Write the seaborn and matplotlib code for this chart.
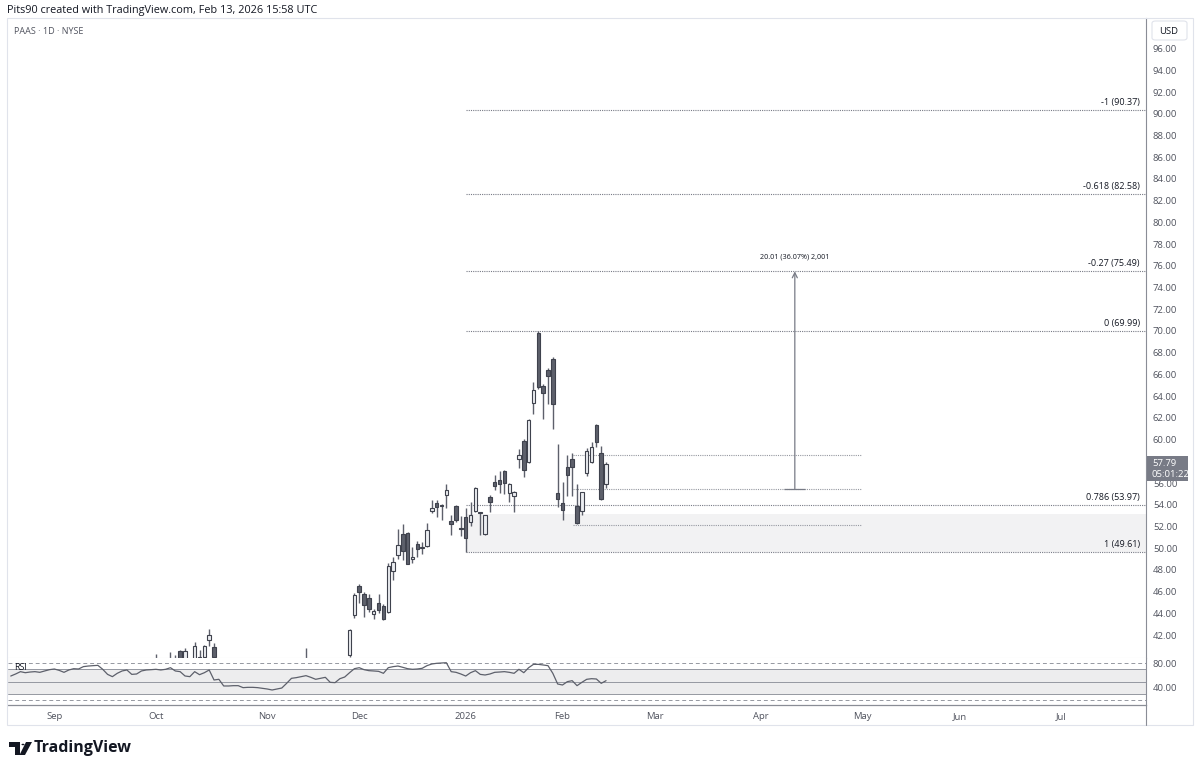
import matplotlib
matplotlib.use("Agg")
import matplotlib.pyplot as plt
import seaborn as sns
import numpy as np
import pandas as pd
from matplotlib.patches import Rectangle, FancyBboxPatch, Polygon, Circle

W, H = 1200, 771

# NYSE trading calendar (bars are trading days)
holidays = ["2025-09-01", "2025-11-27", "2025-12-25", "2026-01-01", "2026-01-19",
            "2026-02-16", "2026-04-03", "2026-05-25", "2026-06-19", "2026-07-03"]
days = pd.bdate_range("2025-08-18", "2026-07-31")
days = days[~days.isin(pd.to_datetime(holidays))]
pos = pd.Series(np.arange(len(days)), index=days)

# October candles, only their tops reach into the visible price range
early_dates = ["2025-10-01", "2025-10-06", "2025-10-07", "2025-10-08", "2025-10-09",
               "2025-10-13", "2025-10-14", "2025-10-15", "2025-10-16", "2025-10-17",
               "2025-11-13"]
early_open = [39.0, 39.6, 39.3, 40.55, 39.6, 39.8, 40.0, 40.0, 41.55, 40.93, 39.5]
early_high = [40.3, 40.4, 40.2, 40.6, 40.8, 41.4, 40.6, 41.1, 42.56, 41.3, 40.8]
early_low = [38.7, 39.0, 38.9, 39.2, 39.4, 39.5, 39.5, 39.8, 40.95, 39.5, 39.0]
early_close = [39.4, 39.3, 39.5, 39.5, 40.55, 41.0, 39.8, 41.0, 42.0, 40.0, 39.8]

# daily candles Nov 26 2025 - Feb 13 2026
main_start = "2025-11-26"
opens = [40.2, 43.85, 46.5, 45.75, 45.4, 43.9, 45.0, 44.7, 44.15, 47.9,
         49.4, 51.3, 51.4, 49.0, 50.4, 50.0, 50.2, 53.4, 54.2, 53.9,
         54.9, 52.5, 53.9, 51.85, 52.9, 52.45, 53.45, 53.3, 51.35, 54.75,
         56.05, 56.3, 57.1, 55.1, 54.85, 58.2, 59.85, 57.95, 63.35, 69.85,
         64.95, 66.4, 67.4, 55.1, 54.2, 57.5, 58.25, 53.9, 53.45, 56.95,
         57.95, 61.35, 58.8, 55.95]
highs = [42.6, 45.9, 46.7, 46.0, 45.8, 44.4, 45.8, 44.9, 48.6, 49.2,
         51.8, 52.2, 51.5, 50.1, 50.65, 50.6, 52.3, 54.4, 54.45, 54.1,
         55.9, 53.05, 54.0, 52.95, 53.7, 54.3, 55.6, 53.3, 53.1, 54.9,
         56.7, 57.1, 57.2, 56.0, 55.3, 59.1, 60.1, 61.9, 65.3, 69.99,
         65.1, 66.55, 67.6, 59.55, 56.1, 58.6, 58.8, 55.9, 55.2, 59.2,
         59.8, 61.43, 59.4, 57.95]
lows = [40.0, 43.6, 45.0, 43.7, 44.1, 43.5, 44.0, 43.4, 44.05, 47.1,
        49.05, 48.95, 48.5, 48.6, 49.15, 49.5, 50.1, 53.2, 52.85, 52.6,
        53.7, 51.2, 52.4, 51.1, 49.61, 52.0, 53.35, 51.2, 51.25, 53.35,
        55.35, 55.05, 55.0, 54.3, 53.35, 57.35, 56.6, 57.85, 62.4, 64.7,
        61.9, 63.25, 60.95, 53.8, 52.6, 54.8, 54.8, 52.2, 53.05, 56.65,
        57.85, 59.35, 54.45, 55.5]
closes = [42.5, 45.7, 46.0, 44.8, 44.4, 44.2, 44.3, 43.45, 48.35, 48.7,
          50.3, 49.7, 48.55, 49.2, 49.9, 50.1, 51.7, 53.7, 53.75, 53.85,
          55.4, 52.2, 52.6, 51.8, 50.9, 53.1, 55.5, 53.2, 53.05, 54.3,
          55.7, 55.9, 56.0, 55.9, 55.2, 58.6, 57.2, 61.8, 64.55, 64.8,
          64.3, 65.85, 63.3, 54.5, 53.55, 56.7, 57.5, 52.35, 55.15, 58.95,
          59.3, 59.8, 54.5, 57.79]

# RSI(14), Aug 19 2025 - Feb 13 2026
rsi_start = "2025-08-19"
rsi = [59.1, 62.4, 66.2, 64.5, 65.6, 66.2, 65.1, 67.3, 69.4,
       70.5, 68.3, 65.1, 68.9, 71.0, 70.5, 74.3, 75.3, 75.9, 76.4,
       70.0, 61.8, 58.1, 63.5, 67.3, 68.9, 61.8, 62.4, 67.3, 68.9,
       69.4, 70.0, 68.9, 70.0, 72.6, 67.3, 66.2, 59.2, 58.1, 66.2,
       61.3, 64.5, 68.9, 52.7, 53.8, 43.0, 43.0, 43.5, 43.5, 40.3,
       40.8, 40.8, 40.3, 39.2, 38.1, 36.5, 38.1, 39.7, 47.3, 55.4,
       56.5, 58.1, 59.7, 57.0, 53.8, 55.4, 57.0, 48.9, 48.4, 54.8,
       57.5, 64.5, 71.0, 72.6, 69.4, 67.8, 67.3, 66.7, 63.5, 72.6,
       74.3, 75.3, 73.2, 71.0, 70.0, 70.5, 71.6, 75.9, 78.6, 79.7,
       80.2, 80.7, 66.2, 65.1, 62.4, 59.1, 64.5, 67.8, 61.8, 60.8,
       62.4, 65.1, 65.6, 66.2, 65.1, 63.5, 70.0, 64.5, 72.6, 78.0,
       78.0, 77.0, 75.9, 63.5, 46.2, 44.6, 50.0, 51.6, 43.5, 48.9,
       53.8, 54.8, 54.3, 47.3, 51.6]

# drawings
fib_start = "2026-01-02"
fib_labels = ["-1", "-0.618", "-0.27", "0", "0.786", "1"]
fib_prices = [90.37, 82.58, 75.49, 69.99, 53.97, 49.61]
zone_low, zone_high = 49.61, 53.15
range_start, range_end = "2026-02-04", "2026-04-30"
range_prices = [58.6, 55.47, 52.15]
measure_date = "2026-04-13"
measure_from, measure_to = 55.47, 75.49
measure_text = "20.01 (36.07%) 2,001"
last_price, countdown = "57.79", "05:01:22"

month_labels = ["Sep", "Oct", "Nov", "Dec", "2026", "Feb", "Mar", "Apr", "May", "Jun", "Jul"]

UP_FILL = "#eceef2"
DOWN_FILL = "#5d606b"
EDGE = "#3f424d"
WICK = "#5d606b"
TXT = "#131722"
AXTXT = "#50535e"

sns.set_theme(style="white")
plt.rcParams["font.family"] = ["Open Sans", "DejaVu Sans"]

fig = plt.figure(figsize=(W / 100, H / 100), dpi=100)


def box(left, top, right, bottom):
    return [left / W, 1 - bottom / H, (right - left) / W, (bottom - top) / H]


def fp(x, y):
    return x / W, 1 - y / H


ax = fig.add_axes(box(8, 18, 1146, 658))
ax_rsi = fig.add_axes(box(8, 658, 1146, 705))
x_left, x_right = 0.43, 235.56
for a in (ax, ax_rsi):
    a.set_xlim(x_left, x_right)
    a.set_facecolor("white")
ax.set_ylim(39.89, 98.82)
ax_rsi.set_ylim(12.2, 88.3)


def draw_candles(a, x, o, h, l, c):
    x, o, h, l, c = map(np.asarray, (x, o, h, l, c))
    up = c >= o
    a.vlines(x, l, h, color=WICK, lw=1, zorder=2)
    bottom = np.minimum(o, c)
    height = np.maximum(np.abs(c - o), 0.1)
    a.bar(x[up], height[up], bottom=bottom[up], width=0.72, color=UP_FILL,
          edgecolor=EDGE, linewidth=0.8, zorder=3)
    a.bar(x[~up], height[~up], bottom=bottom[~up], width=0.72, color=DOWN_FILL,
          edgecolor=EDGE, linewidth=0.8, zorder=3)


# shaded zone and fib levels
fx0 = pos[fib_start]
ax.add_patch(Rectangle((fx0, zone_low), x_right - fx0, zone_high - zone_low,
                       facecolor="#f2f2f3", edgecolor="none", zorder=0))
for lab, p in zip(fib_labels, fib_prices):
    ax.hlines(p, fx0, x_right, color="#787b86", lw=0.8, linestyles=(0, (1, 1)), zorder=1)
    ax.text(234.3, p + 0.3, f"{lab} ({p:.2f})", ha="right", va="bottom",
            fontsize=6.5, color=TXT)

# range lines
ax.hlines(range_prices, pos[range_start] + 0.2, pos[range_end] + 0.7, color="#9598a1",
          lw=0.8, linestyles=(0, (1, 1)), zorder=1)

# measure arrow
xm = pos[measure_date]
ax.annotate("", xy=(xm, measure_to), xytext=(xm, measure_from),
            arrowprops=dict(arrowstyle="->", color="#787b86", lw=0.9,
                            mutation_scale=9, shrinkA=0, shrinkB=0))
ax.hlines(measure_from, xm - 2.2, xm + 2.2, color="#787b86", lw=0.9)
ax.text(xm, measure_to + 1.0, measure_text, ha="center", va="bottom", fontsize=5.2, color=TXT)

# candles
draw_candles(ax, pos[pd.to_datetime(early_dates)].values, early_open, early_high,
             early_low, early_close)
mx = pos[main_start] + np.arange(len(opens))
draw_candles(ax, mx, opens, highs, lows, closes)

# price scale
ax.yaxis.tick_right()
ticks = np.arange(42, 97, 2)
ax.set_yticks(ticks)
ax.set_yticklabels([f"{t:.2f}" for t in ticks])
ax.tick_params(axis="y", length=0, pad=5, labelsize=6.8, labelcolor=AXTXT)
ax.set_xticks([])
for s in ("top", "left"):
    ax.spines[s].set_visible(False)
ax.spines["bottom"].set_color("#e0e3eb")
ax.spines["bottom"].set_linewidth(0.8)
ax.spines["right"].set_color("#8a8d96")
ax.spines["right"].set_linewidth(0.8)

# RSI pane
ax_rsi.axhspan(30, 70, color="#ededee", zorder=0, lw=0)
for lvl, ls, col in [(80, (0, (4, 3)), "#9598a1"), (70, "-", "#9598a1"),
                     (50, "-", "#9598a1"), (30, "-", "#9598a1"), (20, (0, (4, 3)), "#9598a1")]:
    ax_rsi.axhline(lvl, color=col, lw=0.7, linestyle=ls, zorder=1)
rx = pos[rsi_start] + np.arange(len(rsi))
sns.lineplot(x=rx, y=rsi, ax=ax_rsi, color="#5d606b", linewidth=0.9, zorder=3)
ax_rsi.text(0.005, 0.80, "RSI", transform=ax_rsi.transAxes, fontsize=6.5, color=TXT,
            va="center")
ax_rsi.yaxis.tick_right()
ax_rsi.set_yticks([40, 80])
ax_rsi.set_yticklabels(["40.00", "80.00"])
ax_rsi.tick_params(axis="y", length=0, pad=5, labelsize=6.8, labelcolor=AXTXT)
months = pd.period_range("2025-09", "2026-07", freq="M")
month_pos = [pos[days[days.to_period("M") == m][0]] for m in months]
ax_rsi.set_xticks(month_pos)
ax_rsi.set_xticklabels(month_labels)
ax_rsi.tick_params(axis="x", length=0, pad=5, labelsize=6.8, labelcolor=AXTXT)
ax_rsi.set_ylabel("")
for s in ("top", "left"):
    ax_rsi.spines[s].set_visible(False)
ax_rsi.spines["bottom"].set_color("#8a8d96")
ax_rsi.spines["bottom"].set_linewidth(0.9)
ax_rsi.spines["right"].set_color("#8a8d96")
ax_rsi.spines["right"].set_linewidth(0.8)

# widget frame and extras
fig.patches.append(Rectangle(fp(7, 725), 1186 / W, 707 / H, transform=fig.transFigure,
                             facecolor="none", edgecolor="#e0e3eb", lw=0.8))
fig.lines.append(plt.Line2D([1146 / W, 1146 / W], [1 - 705 / H, 1 - 725 / H],
                            transform=fig.transFigure, color="#8a8d96", lw=0.8))
fig.text(*fp(7, 10), "Pits90 created with TradingView.com, Feb 13, 2026 15:58 UTC",
         fontsize=7.8, color=TXT, va="center")
fig.text(*fp(14, 31), "PAAS · 1D · NYSE", fontsize=6.5, color=AXTXT, va="center")

# USD box
fig.patches.append(FancyBboxPatch(fp(1152, 40), 35 / W, 19 / H, transform=fig.transFigure,
                                  boxstyle="round,pad=0,rounding_size=0.003",
                                  facecolor="white", edgecolor="#e0e3eb", lw=0.8, zorder=5))
fig.text(*fp(1169, 31), "USD", fontsize=6.8, color=TXT, ha="center", va="center", zorder=6)

# last price tag
fig.patches.append(Rectangle(fp(1147, 481), 41 / W, 25 / H, transform=fig.transFigure,
                             facecolor="#787b86", edgecolor="none", zorder=5))
fig.text(*fp(1152, 463.5), last_price, fontsize=6.8, color="white", va="center", zorder=6)
fig.text(*fp(1152, 474.5), countdown, fontsize=6.8, color="white", va="center", zorder=6)

# TradingView logo
logo = [Polygon([fp(9, 742), fp(20, 742), fp(20, 755), fp(15, 755), fp(15, 747), fp(9, 747)],
                closed=True, transform=fig.transFigure, facecolor=TXT, edgecolor="none"),
        Circle(fp(23, 744.5), 2.3 / W, transform=fig.transFigure, facecolor=TXT),
        Polygon([fp(26, 742), fp(32, 742), fp(25, 755), fp(19.5, 755)], closed=True,
                transform=fig.transFigure, facecolor=TXT, edgecolor="none")]
for pch in logo:
    fig.patches.append(pch)
fig.text(*fp(34, 748.5), "TradingView", fontsize=11.5, fontweight="bold", color=TXT,
         va="center")

fig.savefig("out.png", dpi=100, facecolor="white")
